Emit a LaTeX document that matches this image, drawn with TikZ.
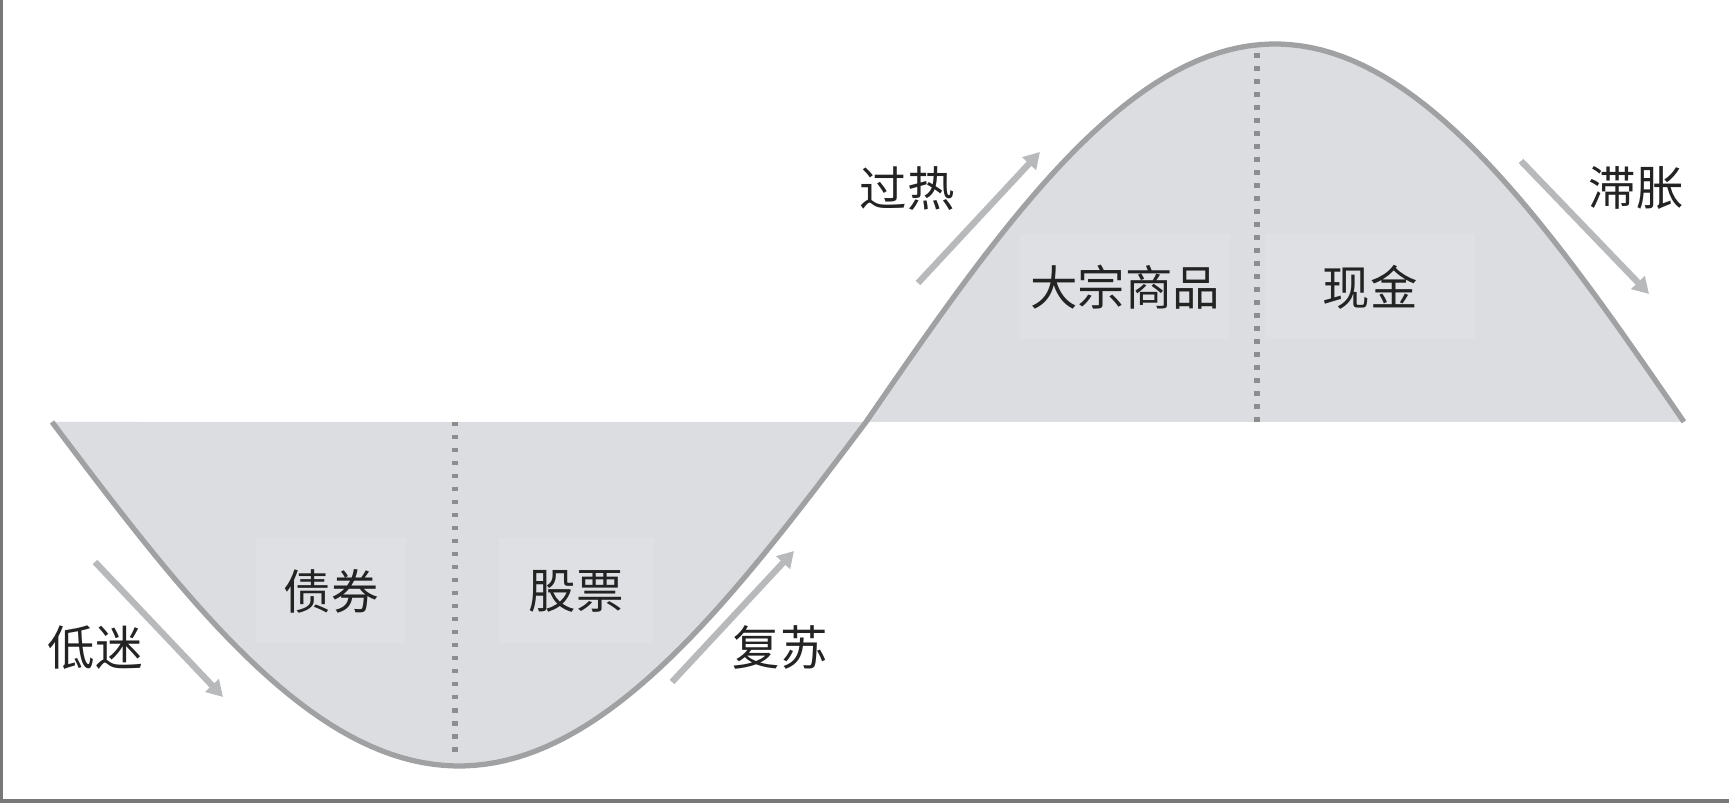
\documentclass[tikz,border=0pt]{standalone}
\usepackage{fontspec}
\newfontfamily\cjk{Noto Sans CJK SC}
\usepackage{xcolor}
\usepackage{tikz}
\usetikzlibrary{arrows.meta}

\definecolor{areagray}{RGB}{219,221,224}
\definecolor{boxgray}{RGB}{222,224,227}
\definecolor{curvegray}{RGB}{160,161,163}
\definecolor{arrowgray}{RGB}{184,185,187}
\definecolor{dotgray}{RGB}{140,141,143}
\definecolor{textdark}{RGB}{35,35,35}
\definecolor{edgegray}{RGB}{120,120,120}

\begin{document}
\begin{tikzpicture}[
    phase/.style={font=\cjk\fontsize{13.5}{16}\selectfont, text=textdark, inner sep=0pt},
    asset/.style={phase, fill=boxgray, minimum height=1.05cm},
    trend/.style={-{Triangle[length=0.16cm,width=0.18cm]}, line width=1.8pt, draw=arrowgray},
    wave/.style={draw=curvegray, line width=1.5pt, line join=round},
    divider/.style={draw=dotgray, line width=1.5pt, dash pattern=on 0.045cm off 0.085cm}
]
\useasboundingbox (0,0) rectangle (17.29,8.03);
\fill[white] (0,0) rectangle (17.29,8.03);
% scan edges
\fill[edgegray] (0,0) rectangle (0.03,8.03);
\fill[edgegray] (0,0) rectangle (17.29,0.04);

% shaded halves of the cycle
\fill[areagray] (0.52,3.81) -- plot[domain=0.52:8.66, samples=80]
      (\x, {3.81-3.44*sin(180*(\x-0.52)/8.14)}) -- cycle;
\fill[areagray] (8.66,3.81) -- plot[domain=8.66:16.84, samples=80]
      (\x, {3.81+3.78*sin(180*(\x-8.66)/8.18)}) -- cycle;

\draw[divider] (4.55,3.81) -- (4.55,0.50);
\draw[divider] (12.57,3.81) -- (12.57,7.50);

\draw[wave] plot[domain=0.52:8.66, samples=80] (\x, {3.81-3.44*sin(180*(\x-0.52)/8.14)})
      -- plot[domain=8.66:16.84, samples=80] (\x, {3.81+3.78*sin(180*(\x-8.66)/8.18)});

% assets
\node[asset, minimum width=1.5cm]  (bond)  at (3.31,2.12)  {债券};
\node[asset, minimum width=1.55cm] (stock) at (5.76,2.12)  {股票};
\node[asset, minimum width=2.1cm]  (goods) at (11.25,5.16) {大宗商品};
\node[asset, minimum width=2.1cm]  (cash)  at (13.70,5.16) {现金};

% phases
\node[phase] (slump)    at (0.95,1.55)  {低迷};
\node[phase] (recovery) at (7.80,1.55)  {复苏};
\node[phase] (overheat) at (9.07,6.14)  {过热};
\node[phase] (stagfl)   at (16.36,6.15) {滞胀};

\coordinate (slumpA) at (0.95,2.41);   \coordinate (slumpB) at (2.23,1.06);
\coordinate (recovA) at (6.72,1.21);   \coordinate (recovB) at (7.94,2.52);
\coordinate (heatA)  at (9.18,5.20);   \coordinate (heatB)  at (10.40,6.51);
\coordinate (stagA)  at (15.21,6.42);  \coordinate (stagB)  at (16.49,5.09);

\draw[trend] (slumpA) -- (slumpB);
\draw[trend] (recovA) -- (recovB);
\draw[trend] (heatA)  -- (heatB);
\draw[trend] (stagA)  -- (stagB);
\end{tikzpicture}
\end{document}
